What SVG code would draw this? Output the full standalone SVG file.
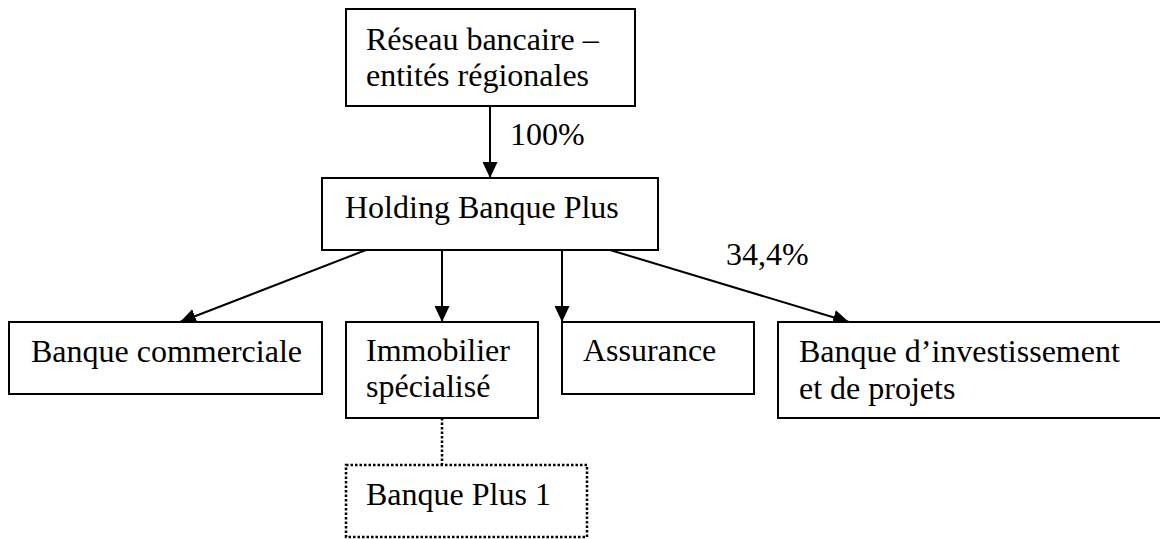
<svg xmlns="http://www.w3.org/2000/svg" width="1160" height="539" viewBox="0 0 1160 539">
<style>
.box{fill:#fff;stroke:#000;stroke-width:2}
.dot{fill:#fff;stroke:#000;stroke-width:2.5;stroke-dasharray:2.5 2}
.t{font-family:"Liberation Serif","Times New Roman",serif;font-size:32px;fill:#000}
.c{stroke:#000;stroke-width:2;fill:none}
.cd{stroke:#000;stroke-width:2.5;fill:none;stroke-dasharray:2.5 2}
</style>
<defs>
<marker id="ah" viewBox="0 0 16 15" refX="16" refY="7.5" markerWidth="16" markerHeight="15" markerUnits="userSpaceOnUse" orient="auto">
<path d="M0,0 L16,7.5 L0,15 z" fill="#000"/>
</marker>
</defs>
<rect width="1160" height="539" fill="#fff"/>
<g id="connectors">
<line class="c" x1="490" y1="106" x2="490" y2="178" marker-end="url(#ah)"/>
<line class="c" x1="366" y1="250" x2="180" y2="322" marker-end="url(#ah)"/>
<line class="c" x1="442" y1="250" x2="442" y2="322" marker-end="url(#ah)"/>
<line class="c" x1="562" y1="250" x2="562" y2="322" marker-end="url(#ah)"/>
<line class="c" x1="610" y1="250" x2="849" y2="322" marker-end="url(#ah)"/>
<line class="cd" x1="442" y1="418" x2="442" y2="465"/>
<text class="t" x="510" y="145">100%</text>
<text class="t" x="726" y="265">34,4%</text>
</g>
<g id="reseau">
<rect class="box" x="346" y="9" width="289" height="97"/>
<text class="t" x="366" y="50">Réseau bancaire –</text>
<text class="t" x="366" y="86">entités régionales</text>
</g>
<g id="holding">
<rect class="box" x="322" y="178" width="336" height="72"/>
<text class="t" x="345" y="218">Holding Banque Plus</text>
</g>
<g id="commerciale">
<rect class="box" x="9" y="322" width="313" height="72"/>
<text class="t" x="31" y="362">Banque commerciale</text>
</g>
<g id="immobilier">
<rect class="box" x="346" y="322" width="192" height="96"/>
<text class="t" x="366" y="361">Immobilier</text>
<text class="t" x="366" y="397">spécialisé</text>
</g>
<g id="assurance">
<rect class="box" x="562" y="322" width="192" height="72"/>
<text class="t" x="583" y="361">Assurance</text>
</g>
<g id="investissement">
<rect class="box" x="778" y="322" width="390" height="96"/>
<text class="t" x="799" y="362">Banque d’investissement</text>
<text class="t" x="799" y="399">et de projets</text>
</g>
<g id="banqueplus1">
<rect class="dot" x="346" y="465" width="241" height="72"/>
<text class="t" x="366" y="505">Banque Plus 1</text>
</g>
</svg>
